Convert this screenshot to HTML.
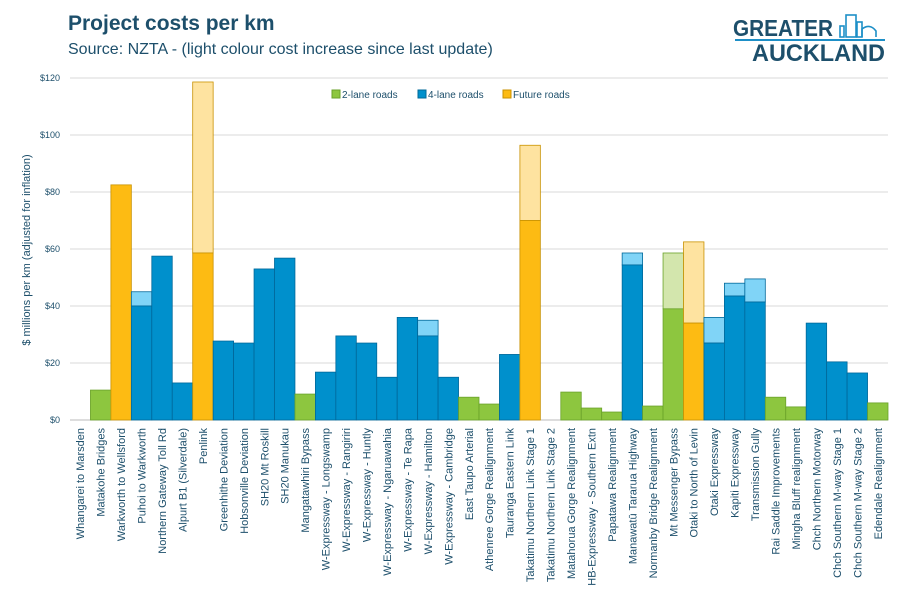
<!DOCTYPE html>
<html><head><meta charset="utf-8"><style>
body{margin:0;background:#fff;width:903px;height:596px;overflow:hidden;font-family:"Liberation Sans",sans-serif}
</style></head><body>
<svg width="903" height="596" viewBox="0 0 903 596" xmlns="http://www.w3.org/2000/svg">
<text x="68" y="30" font-size="21" font-weight="bold" fill="#1d4f6b">Project costs per km</text>
<text x="68" y="54" font-size="16" fill="#1d4f6b">Source: NZTA - (light colour cost increase since last update)</text>
<g>
<text x="733" y="36" font-size="23" font-weight="bold" fill="#1d4f6b" textLength="100" lengthAdjust="spacingAndGlyphs">GREATER</text>
<rect x="735" y="39" width="150" height="2" fill="#1d8fc7"/>
<text x="752" y="61" font-size="24" font-weight="bold" fill="#1d4f6b" textLength="133" lengthAdjust="spacingAndGlyphs">AUCKLAND</text>
<g fill="none" stroke="#1d8fc7" stroke-width="1.6"><rect x="846" y="15" width="10" height="22"/><rect x="857" y="22" width="5" height="15"/><path d="M862 37 v-8 q8 -6 14 2 v6"/><rect x="840" y="26" width="4" height="11"/></g>
</g>
<g id="grid"></g>
<g id="bars"></g>
<g id="xlabels"></g>
<text transform="translate(30,250) rotate(-90)" text-anchor="middle" font-size="11" fill="#1d4f6b">$ millions per km (adjusted for inflation)</text>
<g font-size="10" fill="#1d4f6b">
<g><rect x="332" y="90" width="8" height="8" fill="#8dc63f" stroke="#6aa22a"/><text x="342" y="98">2-lane roads</text></g>
<g><rect x="418" y="90" width="8" height="8" fill="#0090cc" stroke="#006a99"/><text x="428" y="98">4-lane roads</text></g>
<g><rect x="503" y="90" width="8" height="8" fill="#fdbb13" stroke="#c99200"/><text x="513" y="98">Future roads</text></g>
</g>
</svg>
<script>
const categories=["Whangarei to Marsden","Matakohe Bridges","Warkworth to Wellsford","Puhoi to Warkworth","Northern Gateway Toll Rd","Alpurt B1 (Silverdale)","Penlink","Greenhithe Deviation","Hobsonville Deviation","SH20 Mt Roskill","SH20 Manukau","Mangatawhiri Bypass","W-Expressway - Longswamp","W-Expressway - Rangiriri","W-Expressway - Huntly","W-Expressway - Ngaruawahia","W-Expressway - Te Rapa","W-Expressway - Hamilton","W-Expressway - Cambridge","East Taupo Arterial","Athenree Gorge Realignment","Tauranga Eastern Link","Takatimu Northern Link Stage 1","Takatimu Northern Link Stage 2","Matahorua Gorge Realignment","HB-Expressway - Southern Extn","Papatawa Realignment","Manawatū Tararua Highway","Normanby Bridge Realignment","Mt Messenger Bypass","Otaki to North of Levin","Otaki Expressway","Kapiti Expressway","Transmission Gully","Rai Saddle Improvements","Mingha Bluff realignment","Chch Northern Motorway","Chch Southern M-way Stage 1","Chch Southern M-way Stage 2","Edendale Realignment"];
const types=["2","2","F","4","4","4","F","4","4","4","4","2","4","4","4","4","4","4","4","2","2","4","F","F","2","2","2","4","2","2","F","4","4","4","2","2","4","4","4","2"];
const baseCost=[0,10.5,82.5,40,57.5,13,58.6,27.7,27,53,56.8,9.1,16.8,29.5,27,15,36,29.5,15,8,5.6,23,70,0,9.8,4.2,2.8,54.4,4.9,39,34,27,43.5,41.4,8,4.6,34,20.4,16.5,6];
const totalCost=[0,10.5,82.5,45,57.5,13,118.6,27.7,27,53,56.8,9.1,16.8,29.5,27,15,36,35,15,8,5.6,23,96.4,0,9.8,4.2,2.8,58.6,4.9,58.6,62.5,36,48,49.5,8,4.6,34,20.4,16.5,6];
const yTicks=[0,20,40,60,80,100,120];
const tickLabels=["$0","$20","$40","$60","$80","$100","$120"];
const NS="http://www.w3.org/2000/svg";
const X0=70,X1=888,Y0=420,Y120=78;
const bw=(X1-X0)/categories.length;
const y=v=>Y0-(v/120)*(Y0-Y120);
const x=i=>X0+i*bw;
const col={"2":["#8dc63f","#d3e6ad","#6aa22a"],"4":["#0090cc","#80d4f7","#00689a"],"F":["#fdbb13","#fee3a0","#c99200"]};
function mk(tag,attrs,parent){const e=document.createElementNS(NS,tag);for(const k in attrs)e.setAttribute(k,attrs[k]);parent.appendChild(e);return e;}
const grid=document.getElementById('grid');
yTicks.forEach((t,i)=>{
  const l=mk('line',{x1:X0,x2:X1,y1:y(t),y2:y(t),stroke:i==0?'#bbb':'#d9d9d9','stroke-width':1},grid);
  
  
  const tx=mk('text',{x:60,y:y(t)+3,'text-anchor':'end','font-size':9,fill:'#1d4f6b'},grid);
  tx.textContent=tickLabels[i];
  
  
});
const bars=document.getElementById('bars');
categories.forEach((c,i)=>{
  const cc=col[types[i]];
  if(totalCost[i]>baseCost[i]){
    const r=mk('rect',{x:x(i),y:y(totalCost[i]),width:bw,height:y(baseCost[i])-y(totalCost[i]),fill:cc[1],stroke:cc[2],'stroke-width':0.8},bars);
    
    
  }
  if(baseCost[i]>0){
    const r=mk('rect',{x:x(i),y:y(baseCost[i]),width:bw,height:Y0-y(baseCost[i]),fill:cc[0],stroke:cc[2],'stroke-width':0.8},bars);
    
    
  }
});
const xl=document.getElementById('xlabels');
categories.forEach((c,i)=>{
  const cx=x(i)+bw/2+4;
  const t=mk('text',{transform:`translate(${cx},428) rotate(-90)`,'text-anchor':'end','font-size':11,fill:'#1d4f6b'},xl);
  t.textContent=c;
  
  
});
</script>
</body></html>
